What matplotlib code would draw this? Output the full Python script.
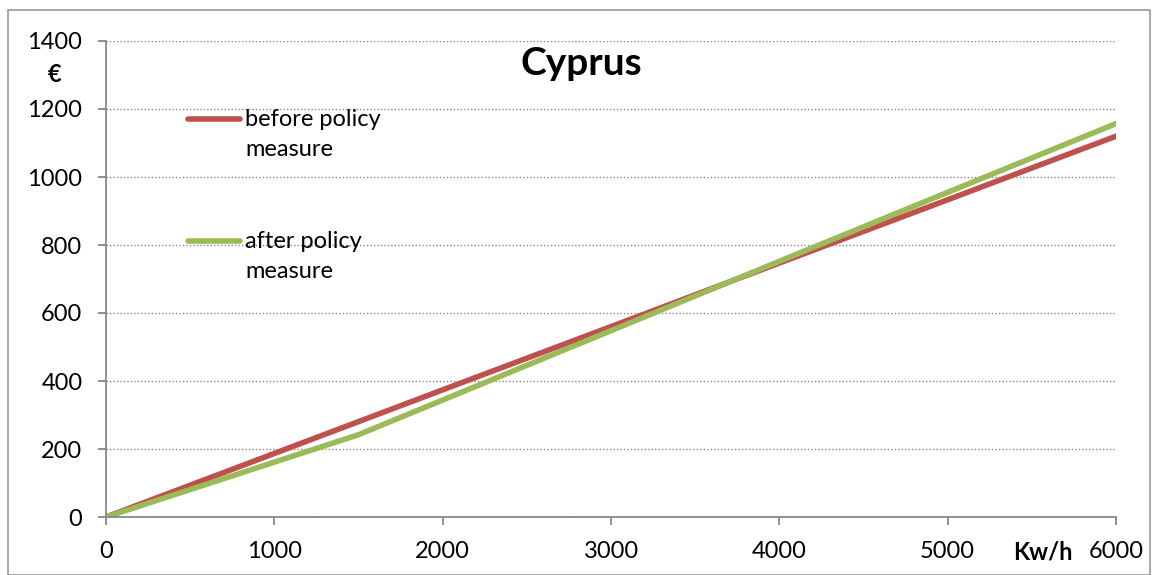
import matplotlib.pyplot as plt
from matplotlib.patches import Rectangle
from matplotlib.lines import Line2D

# consumption (kWh) and cost (EUR)
before_x = [0, 1000, 2000, 3000, 4000, 5000, 6000]
before_y = [0, 187, 374, 560, 747, 933, 1120]
after_x = [0, 1500, 3000, 4000, 5000, 6000]
after_y = [0, 242, 548, 752, 955, 1157]

RED = '#c0504d'
GREEN = '#9bbb59'
W, H = 1152, 575

plt.rcParams['font.family'] = ['Lato', 'DejaVu Sans']

fig = plt.figure(figsize=(W / 100, H / 100), dpi=100)
ax = fig.add_axes([106 / W, 1 - 517 / H, 1010 / W, 476 / H])

# outer chart border
fig.patches.append(Rectangle((8 / W, 0.5 / H), 1142 / W, 1 - 10.5 / H,
                             transform=fig.transFigure, fill=False,
                             edgecolor='#a0a0a0', linewidth=1.3))

ax.plot(before_x, before_y, color=RED, linewidth=4, solid_capstyle='round')
ax.plot(after_x, after_y, color=GREEN, linewidth=4, solid_capstyle='round')

ax.set_xlim(0, 6000)
ax.set_ylim(0, 1400)
ax.set_xticks(range(0, 6001, 1000))
ax.set_yticks(range(0, 1401, 200))
ax.tick_params(labelsize=17, color='#888888', length=6, width=1.3, pad=11)
ax.grid(axis='y', linestyle=(0, (1, 1.5)), color='#888888', linewidth=1)
ax.set_axisbelow(True)
for side in ['top', 'right']:
    ax.spines[side].set_visible(False)
for side in ['left', 'bottom']:
    ax.spines[side].set_color('#888888')
    ax.spines[side].set_linewidth(1.3)

fig.text(581 / W, 1 - 75 / H, 'Cyprus', fontsize=28, fontweight='bold',
         ha='center', va='baseline')
fig.text(55 / W, 1 - 75 / H, '€', fontsize=17, fontweight='bold',
         ha='center', va='center')
fig.text(1043 / W, 1 - 552 / H, 'Kw/h', fontsize=17, fontweight='bold',
         ha='center', va='center')

# legend drawn by hand: handle aligned with first text line
legend_items = [(RED, 'before policy', 'measure', 119),
                (GREEN, 'after policy', 'measure', 241)]
for color, line1, line2, ypx in legend_items:
    fig.add_artist(Line2D([188 / W, 240 / W], [1 - ypx / H, 1 - ypx / H],
                          transform=fig.transFigure, color=color,
                          linewidth=4, solid_capstyle='round'))
    fig.text(245 / W, 1 - ypx / H, line1, fontsize=17, ha='left', va='center')
    fig.text(245 / W, 1 - (ypx + 31) / H, line2, fontsize=17, ha='left',
             va='center')

fig.savefig('out.png', dpi=100)
